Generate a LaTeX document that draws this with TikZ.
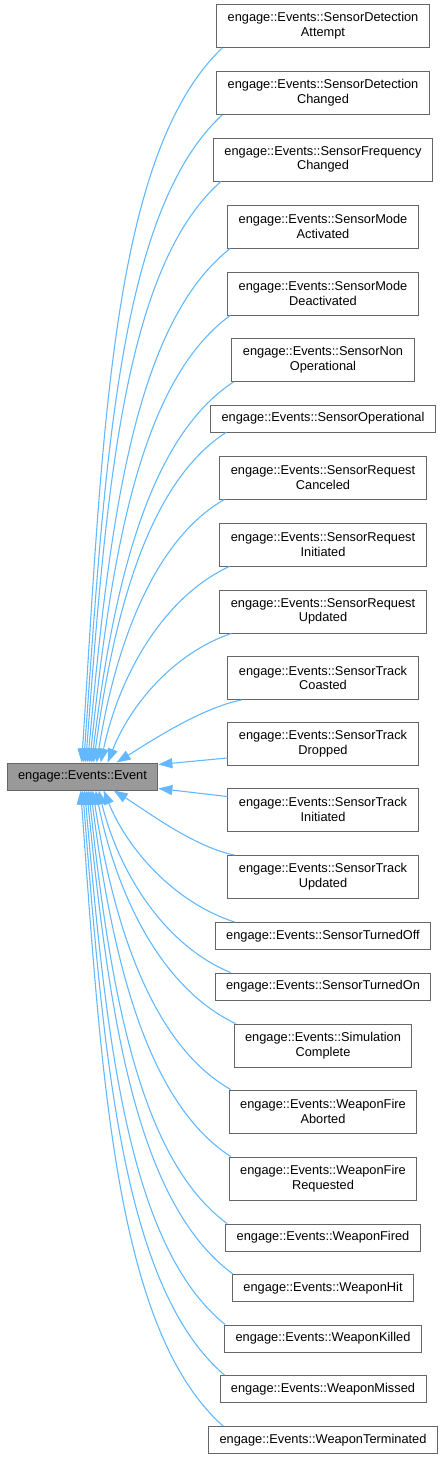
\documentclass[tikz,border=0pt]{standalone}
\usepackage{fontspec}
\setmainfont{Liberation Sans}
\usepackage{tikz}
\usetikzlibrary{arrows.meta, positioning}

\definecolor{edgeblue}{HTML}{63B8FF}
\definecolor{boxline}{HTML}{666666}
\definecolor{basefill}{HTML}{999999}

\tikzset{
  derived/.style={draw=boxline, fill=white, line width=0.9pt, align=center,
    inner xsep=11pt, minimum height=27pt, font=\fontsize{12.8}{14.7}\selectfont},
  derivedtwo/.style={derived, minimum height=43pt},
  base/.style={derived, fill=basefill},
  inherit/.style={draw=edgeblue, line width=1.1pt, -{Triangle[length=14pt,width=10pt]}}
}

\begin{document}
\begin{tikzpicture}[x=1pt, y=1pt]
  \useasboundingbox (0,0) rectangle (444,-1459);

  % base class
  \node[base] (evt) at (82.5,-776.5) {engage::Events::Event};

  % derived classes
  \node[derivedtwo] (sda)  at (323,-26)    {engage::Events::SensorDetection\\Attempt};
  \node[derivedtwo] (sdc)  at (323,-93)    {engage::Events::SensorDetection\\Changed};
  \node[derivedtwo] (sfc)  at (323,-159.5) {engage::Events::SensorFrequency\\Changed};
  \node[derivedtwo] (sma)  at (323,-226.5) {engage::Events::SensorMode\\Activated};
  \node[derivedtwo] (smd)  at (323,-293.5) {engage::Events::SensorMode\\Deactivated};
  \node[derivedtwo] (sno)  at (323,-360)   {engage::Events::SensorNon\\Operational};
  \node[derived]    (sop)  at (323,-418.5) {engage::Events::SensorOperational};
  \node[derivedtwo] (src)  at (323,-477.5) {engage::Events::SensorRequest\\Canceled};
  \node[derivedtwo] (sri)  at (323,-544.5) {engage::Events::SensorRequest\\Initiated};
  \node[derivedtwo] (sru)  at (323,-611.5) {engage::Events::SensorRequest\\Updated};
  \node[derivedtwo] (stc)  at (323,-678)   {engage::Events::SensorTrack\\Coasted};
  \node[derivedtwo] (std)  at (323,-744)   {engage::Events::SensorTrack\\Dropped};
  \node[derivedtwo] (sti)  at (323,-809.5) {engage::Events::SensorTrack\\Initiated};
  \node[derivedtwo] (stu)  at (323,-877)   {engage::Events::SensorTrack\\Updated};
  \node[derived]    (soff) at (323,-936)   {engage::Events::SensorTurnedOff};
  \node[derived]    (son)  at (323,-986.5) {engage::Events::SensorTurnedOn};
  \node[derivedtwo] (simc) at (323,-1045.5) {engage::Events::Simulation\\Complete};
  \node[derivedtwo] (wfa)  at (323,-1111.5) {engage::Events::WeaponFire\\Aborted};
  \node[derivedtwo] (wfr)  at (323,-1178.5) {engage::Events::WeaponFire\\Requested};
  \node[derived]    (wfd)  at (323,-1237.5) {engage::Events::WeaponFired};
  \node[derived]    (whit) at (323,-1288)   {engage::Events::WeaponHit};
  \node[derived]    (wkil) at (323,-1338.5) {engage::Events::WeaponKilled};
  \node[derived]    (wmis) at (323,-1389)   {engage::Events::WeaponMissed};
  \node[derived]    (wter) at (323,-1440)   {engage::Events::WeaponTerminated};

  % edges from the classes above
  \foreach \n/\sh/\tip/\ax/\ay/\bx/\by in {
      sda/6/75/-112/-107/21/322, sdc/6/77/-105/-97/21/292,
      sfc/8/79/-99/-87/20/262, sma/3/81/-98/-77/21/232,
      smd/3/83/-92/-67/21/202, sno/2/85/-87/-57/21/172,
      sop/16/87/-78/-50/20/149, src/5/90/-70/-40/19/119,
      sri/10/94/-65/-30/19/89, sru/12/101/-59/-20/22/56,
      stc/14/110/-40/-8/35/22}
    \draw[inherit] ([xshift=\sh]\n.south west) .. controls +(\ax,\ay) and +(\bx,\by) .. ([xshift=\tip]evt.north west);

  % edges from the classes below
  \foreach \n/\sh/\tip/\ax/\ay/\bx/\by in {
      stu/7/107/-40/8/35/-22, soff/20/97/-62/20/23/-57,
      son/16/92/-66/27/20/-82, simc/2/89/-74/35/21/-105,
      wfa/2/86/-79/45/21/-135, wfr/2/84/-85/55/21/-165,
      wfd/2/82/-89/65/21/-195, whit/1/80/-99/73/22/-218,
      wkil/1/78/-99/80/21/-241, wmis/5/76/-103/88/21/-264,
      wter/15/74/-108/96/21/-287}
    \draw[inherit] ([xshift=\sh]\n.north west) .. controls +(\ax,\ay) and +(\bx,\by) .. ([xshift=\tip]evt.south west);

  % the two nearest ones
  \draw[inherit] ([yshift=8]std.south west) -- ([yshift=-2]evt.north east);
  \draw[inherit] ([yshift=-9]sti.north west) -- ([yshift=2]evt.south east);
\end{tikzpicture}
\end{document}
